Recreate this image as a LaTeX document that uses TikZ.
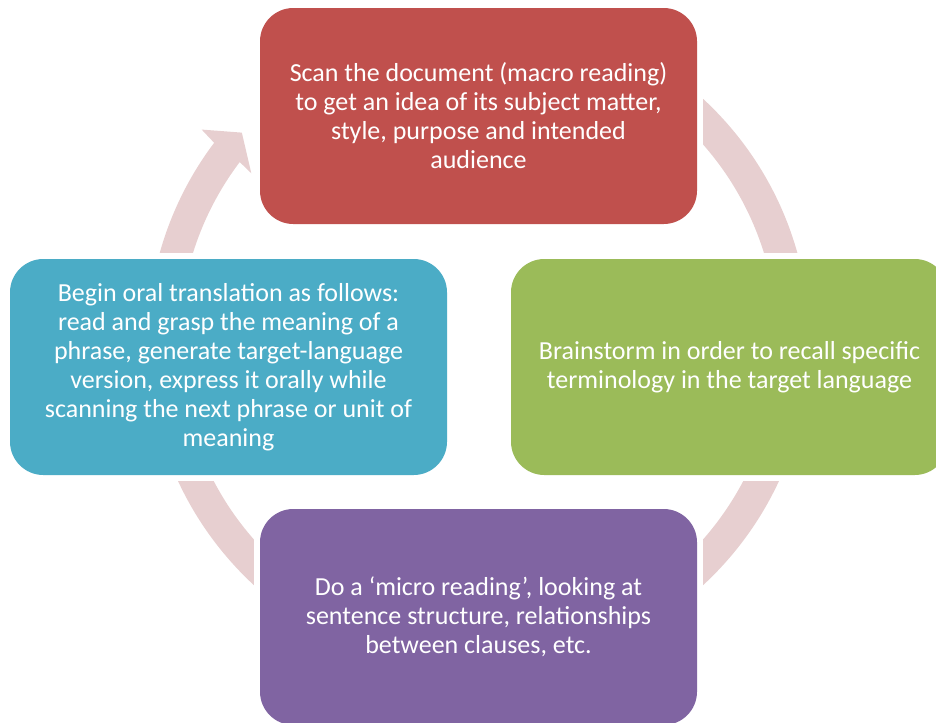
\documentclass[tikz,border=0pt]{standalone}
\usepackage{fontspec}
\setmainfont{Carlito}
\definecolor{ringcol}{RGB}{231,207,208}
\definecolor{boxred}{RGB}{192,80,77}
\definecolor{boxgreen}{RGB}{155,187,89}
\definecolor{boxblue}{RGB}{75,172,198}
\definecolor{boxpurple}{RGB}{128,100,162}
\begin{document}
\begin{tikzpicture}[x=0.75pt,y=-0.75pt,
  stage/.style={rounded corners=25pt, minimum width=327.75pt, minimum height=162pt,
    inner sep=0pt, align=center, text=white, font=\fontsize{19.5}{21.75}\selectfont},
  gap/.style={fill=white}]
\useasboundingbox (0,0) rectangle (936,722);
\clip (0,0) rectangle (936,722);

\coordinate (C) at (478.5,342);

% circular arrow running clockwise, head pointing at the top stage
\fill[ringcol] ([shift={(-90:331)}]C) arc[start angle=-90, end angle=217, radius=331]
  -- ([shift={(217.5:349)}]C) -- ([shift={(221.5:316)}]C) -- ([shift={(216.6:283)}]C)
  -- ([shift={(217:299)}]C) arc[start angle=217, end angle=-90, radius=299] -- cycle;

% stage positions
\coordinate (pscan)  at (478.5,116);
\coordinate (pbrain) at (729.5,367);
\coordinate (poral)  at (228.5,367);
\coordinate (pmicro) at (478.5,617);

% white margins that cut the ring next to each stage
\foreach \p in {pscan,pbrain,poral,pmicro}
  \fill[gap] ([shift={(-224.5,-114)}]\p) rectangle ([shift={(224.5,114)}]\p);

% stage boxes
\node[stage, fill=boxred]    (scan)  at (pscan)  {Scan the document (macro reading)\\to get an idea of its subject matter,\\style, purpose and intended\\audience};
\node[stage, fill=boxgreen]  (brain) at (pbrain) {Brainstorm in order to recall specific\\terminology in the target language};
\node[stage, fill=boxblue]   (oral)  at (poral)  {Begin oral translation as follows:\\read and grasp the meaning of a\\phrase, generate target-language\\version, express it orally while\\scanning the next phrase or unit of\\meaning};
\node[stage, fill=boxpurple] (micro) at (pmicro) {Do a ‘micro reading’, looking at\\sentence structure, relationships\\between clauses, etc.};
\end{tikzpicture}
\end{document}
